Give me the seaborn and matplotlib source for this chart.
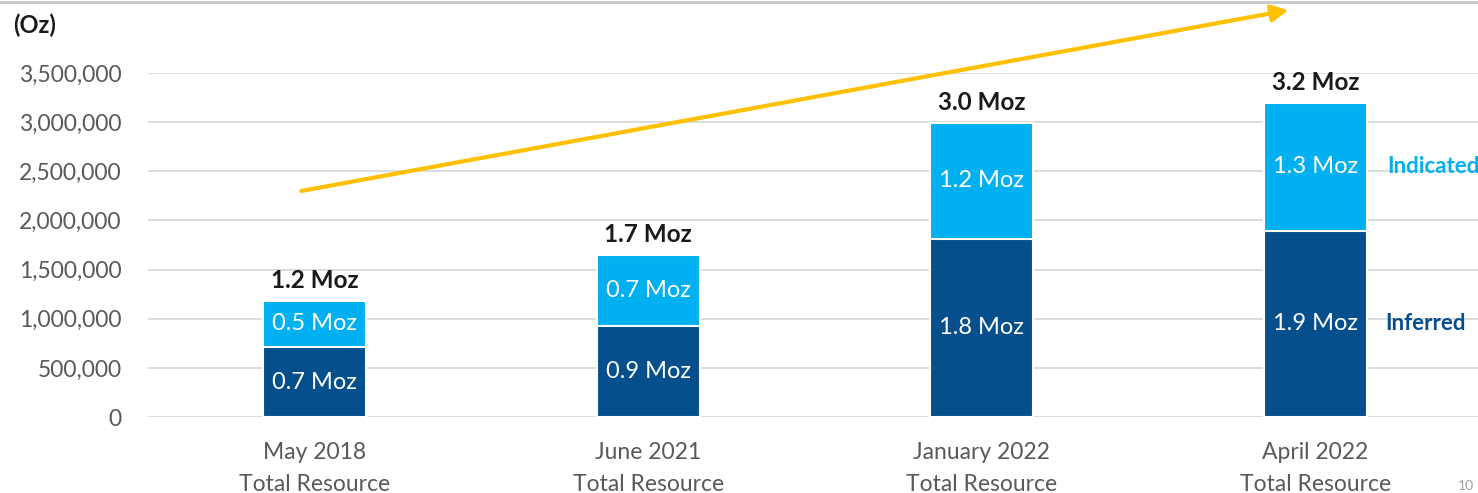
import matplotlib
matplotlib.use("Agg")
import matplotlib.pyplot as plt
import seaborn as sns
import pandas as pd
from matplotlib.ticker import FuncFormatter
from matplotlib.lines import Line2D

categories = ["May 2018\nTotal Resource", "June 2021\nTotal Resource",
              "January 2022\nTotal Resource", "April 2022\nTotal Resource"]
inferred = [712000, 927000, 1813000, 1894000]
indicated = [470000, 723000, 1181000, 1304000]
inferred_labels = ["0.7 Moz", "0.9 Moz", "1.8 Moz", "1.9 Moz"]
indicated_labels = ["0.5 Moz", "0.7 Moz", "1.2 Moz", "1.3 Moz"]
total_labels = ["1.2 Moz", "1.7 Moz", "3.0 Moz", "3.2 Moz"]
yticks = [0, 500000, 1000000, 1500000, 2000000, 2500000, 3000000, 3500000]

sns.set_theme(style="white")
plt.rcParams['font.family'] = ['Lato', 'DejaVu Sans']

DARK = "#054F8C"
LIGHT = "#00B0F0"
GOLD = "#FFC000"
GRAY = "#595959"

totals = [a + b for a, b in zip(inferred, indicated)]
df = pd.DataFrame({"cat": categories, "inferred": inferred,
                   "indicated": indicated, "total": totals})

fig = plt.figure(figsize=(14.78, 4.93), dpi=100)
ax = fig.add_axes([148/1478, 1 - 417/493, 1334/1478, (417-73)/493])

sns.barplot(data=df, x="cat", y="total", color=LIGHT, width=0.31,
            edgecolor="white", linewidth=1.5, ax=ax, saturation=1)
sns.barplot(data=df, x="cat", y="inferred", color=DARK, width=0.31,
            edgecolor="white", linewidth=1.5, ax=ax, saturation=1)

ax.set_ylim(0, 3500000)
ax.set_xlim(-0.5, 3.5)
ax.set_yticks(yticks)
ax.yaxis.set_major_formatter(FuncFormatter(lambda v, p: f"{int(v):,}"))
ax.grid(axis="y", color="#D9D9D9", linewidth=1.3)
ax.set_axisbelow(True)
for s in ax.spines.values():
    s.set_visible(False)
ax.tick_params(axis="y", length=0, pad=19, labelsize=16.5, labelcolor=GRAY)
ax.tick_params(axis="x", length=0, pad=18, labelsize=16.5, labelcolor=GRAY)
for lab in ax.get_xticklabels():
    lab.set_linespacing(1.62)
ax.set_xlabel("")
ax.set_ylabel("")

for i in range(len(categories)):
    ax.text(i, inferred[i] / 2, inferred_labels[i], ha="center", va="center",
            color="white", fontsize=17)
    ax.text(i, inferred[i] + indicated[i] / 2, indicated_labels[i], ha="center",
            va="center", color="white", fontsize=17)
    ax.annotate(total_labels[i], (i, totals[i]), xytext=(0, 14.5),
                textcoords="offset points", ha="center", va="center",
                fontsize=17.5, fontweight="bold", color="#1A1A1A")

# series labels on the right
ax.text(3.215, inferred[3] + indicated[3] / 2, "Indicated", ha="left", va="center",
        color=LIGHT, fontsize=16, fontweight="bold")
ax.text(3.21, inferred[3] / 2, "Inferred", ha="left", va="center",
        color=DARK, fontsize=16, fontweight="bold")

# trend arrow
ax.annotate("", xy=(2.92, 4140000), xytext=(-0.04, 2300000),
            arrowprops=dict(arrowstyle="-|>", color=GOLD, lw=3,
                            mutation_scale=25, shrinkA=0, shrinkB=0),
            annotation_clip=False)

fig.text(13/1478, 1 - 25/493, "(Oz)", ha="left", va="center", fontsize=17,
         fontweight="bold", color="#1A1A1A")
fig.add_artist(Line2D([0, 1], [1 - 2/493, 1 - 2/493], color="#C8C8C8", lw=2,
                      transform=fig.transFigure))
fig.text(1458/1478, 1/493, "10", ha="left", va="bottom", fontsize=10,
         color="#A0A0A0")

fig.savefig("out.png", dpi=100)
